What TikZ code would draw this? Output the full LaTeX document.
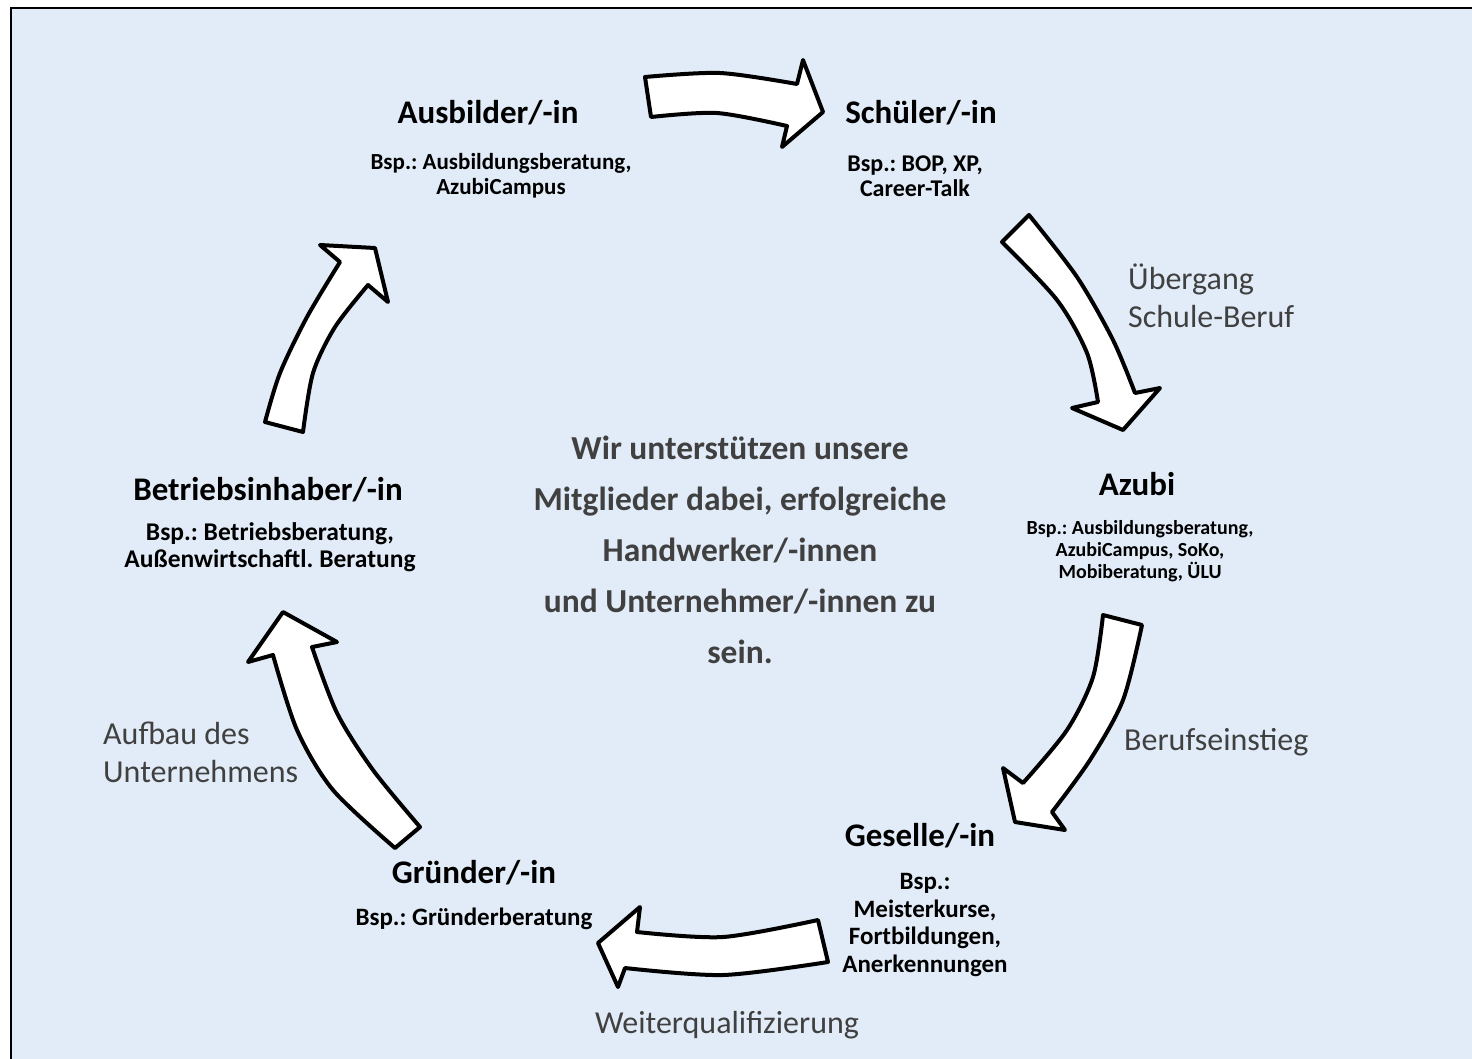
\documentclass[tikz,border=0pt]{standalone}
\usepackage{fontspec}
\setmainfont{Carlito}
\definecolor{bgblue}{RGB}{226,236,248}
\definecolor{txtgray}{RGB}{64,64,64}
\begin{document}
\frenchspacing
\begin{tikzpicture}[x=1pt,y=-1pt,
  bigarrow/.style={draw=black,fill=white,line width=4pt,line join=round},
  stagetitle/.style={font=\fontsize{33}{38}\selectfont\bfseries,text=black,inner sep=0pt,anchor=center},
  stagebody/.style={font=\fontsize{23}{25}\selectfont\bfseries,text=black,align=center,inner sep=0pt,anchor=center},
  steplabel/.style={font=\fontsize{32}{38}\selectfont,text=txtgray,align=left,inner sep=0pt},
  centertext/.style={font=\fontsize{33.5}{51}\selectfont\bfseries,text=txtgray,align=center,inner sep=0pt}
]
\useasboundingbox (0,0) rectangle (1472,1058);
\clip (0,0) rectangle (1472,1058);
\fill[white] (0,0) rectangle (1472,1058);
\fill[bgblue] (11,8) rectangle (1600,1200);
\draw[line width=2.5pt] (11,1200) -- (11,8) -- (1600,8);

% arrows
% top: Ausbilder -> Schueler
\draw[bigarrow] plot[smooth] coordinates {(645,77) (720,73) (797,84)} -- (803,60) -- (823,112) -- (782,147) -- (787,126)
  -- plot[smooth] coordinates {(787,126) (717,113) (651,117)} -- cycle;
% upper right: Schueler -> Azubi
\draw[bigarrow] plot[smooth] coordinates {(1029,215) (1077,277) (1113,340) (1135,393)} -- (1160,388) -- (1123,430) -- (1072,408) -- (1098,402)
  -- plot[smooth] coordinates {(1098,402) (1087,353) (1057,300) (1002,242)} -- cycle;
% lower right: Azubi -> Geselle
\draw[bigarrow] plot[smooth] coordinates {(1142,625) (1123,700) (1090,760) (1052,812)} -- (1065,830) -- (1015,822) -- (1003,768) -- (1023,783)
  -- plot[smooth] coordinates {(1023,783) (1067,730) (1093,677) (1103,615)} -- cycle;
% bottom: Geselle -> Gruender
\draw[bigarrow] plot[smooth] coordinates {(818,920) (723,937) (637,932)} -- (640,907) -- (598,943) -- (618,987) -- (625,968)
  -- plot[smooth] coordinates {(625,968) (723,975) (828,962)} -- cycle;
% lower left: Gruender -> Betriebsinhaber
\draw[bigarrow] plot[smooth] coordinates {(420,827) (373,770) (337,713) (312,647)} -- (337,642) -- (283,612) -- (248,662) -- (273,655)
  -- plot[smooth] coordinates {(273,655) (297,730) (333,790) (395,848)} -- cycle;
% upper left: Betriebsinhaber -> Ausbilder
\draw[bigarrow] plot[smooth] coordinates {(265,422) (280,373) (307,317) (340,262)} -- (320,245) -- (375,248) -- (388,302) -- (368,285)
  -- plot[smooth] coordinates {(368,285) (335,327) (313,373) (303,432)} -- cycle;

% stage texts
\node[stagetitle] (ausT) at (488,113) {Ausbilder/-in};
\node[stagebody] (ausB) at (501,176) {Bsp.: Ausbildungsberatung,\\AzubiCampus};
\node[stagetitle] (schT) at (921,113) {Schüler/-in};
\node[stagebody,font=\fontsize{24}{25}\selectfont\bfseries] (schB) at (915,176) {Bsp.: BOP, XP,\\Career-Talk};
\node[stagetitle] (azuT) at (1137,484) {Azubi};
\node[stagebody,font=\fontsize{20}{22}\selectfont\bfseries] (azuB) at (1140,551) {Bsp.: Ausbildungsberatung,\\AzubiCampus, SoKo,\\Mobiberatung, ÜLU};
\node[stagetitle] (gesT) at (920,836) {Geselle/-in};
\node[stagebody,font=\fontsize{25}{27.5}\selectfont\bfseries] (gesB) at (925,925) {Bsp.:\\Meisterkurse,\\Fortbildungen,\\Anerkennungen};
\node[stagetitle] (gruT) at (474,873) {Gründer/-in};
\node[stagebody,font=\fontsize{25}{27}\selectfont\bfseries] (gruB) at (474,919) {Bsp.: Gründerberatung};
\node[stagetitle] (betT) at (268,490) {Betriebsinhaber/-in};
\node[stagebody,font=\fontsize{25.5}{26.5}\selectfont\bfseries] (betB) at (270,547) {Bsp.: Betriebsberatung,\\Außenwirtschaftl. Beratung};

% step labels
\node[steplabel,anchor=west] (l1) at (1128,296) {Übergang\\Schule-Beruf};
\node[steplabel,anchor=west] (l2) at (1124,742) {Berufseinstieg};
\node[steplabel] (l3) at (727,1025) {Weiterqualifizierung};
\node[steplabel,anchor=west] (l4) at (103,752) {Aufbau des\\Unternehmens};

% centre
\node[centertext] (ctr) at (740,550) {Wir unterstützen unsere\\Mitglieder dabei, erfolgreiche\\Handwerker/-innen\\und Unternehmer/-innen zu\\sein.};
\end{tikzpicture}
\end{document}
